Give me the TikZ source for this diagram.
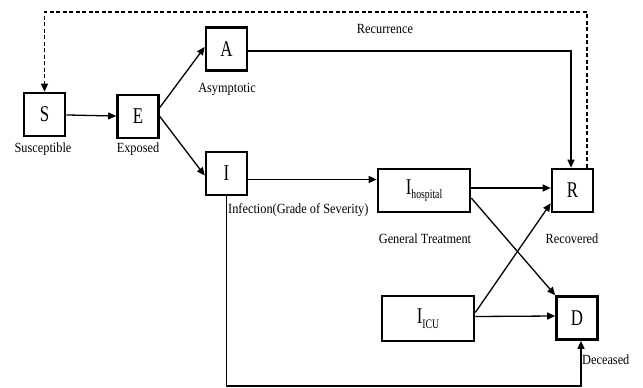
\documentclass[tikz,border=0pt]{standalone}
\usepackage{fontspec}
\setmainfont{Liberation Serif}
\newfontfamily\boxfont[FakeStretch=0.75]{Liberation Serif}
\newfontfamily\lblfont[FakeStretch=0.88]{Liberation Serif}
\usetikzlibrary{arrows.meta}
\tikzstyle{comp}=[draw=black,line width=2.6pt,minimum width=41pt,minimum height=43pt,inner sep=0pt,font=\boxfont\fontsize{22.5}{24}\selectfont]
\tikzstyle{wide}=[comp,minimum width=92pt]
\tikzstyle{lbl}=[inner sep=0pt,font=\lblfont\fontsize{14}{16}\selectfont]
\tikzstyle{flow}=[line width=1.3pt,-{Triangle[length=8pt,width=7pt]}]
\newcommand{\sbs}[1]{\raisebox{-0.22em}{\fontsize{13}{13}\selectfont #1}}

\begin{document}
\begin{tikzpicture}[x=1pt,y=-1pt]
        \useasboundingbox (0,0) rectangle (643,388);
        \node[comp] (S) at (44.5,114.5) {S};
        \node[comp] (E) at (138,116.5) {E};
        \node[comp] (A) at (226.5,49) {A};
        \node[comp] (I) at (226.5,173.5) {I};
        \node[wide] (Ih) at (424,190.5) {I\sbs{hospital}};
        \node[wide,minimum height=45pt] (Iicu) at (428,318.5) {I\sbs{ICU}};
        \node[comp] (R) at (572.5,190.5) {R};
        \node[comp] (D) at (577,318) {D};
        \node[lbl] (lS) at (43,149) {Susceptible};
        \node[lbl] (lE) at (138,149) {Exposed};
        \node[lbl] (lA) at (227,89) {Asymptotic};
        \node[lbl,anchor=west] (lI) at (228,210) {Infection(Grade of Severity)};
        \node[lbl] (lIh) at (425,239) {General Treatment};
        \node[lbl] (lR) at (572,239) {Recovered};
        \node[lbl,anchor=west] (lD) at (582,360) {Deceased};
        \node[lbl] (lrec) at (385,29) {Recurrence};
        \coordinate (top) at (300,12);
        \coordinate (bot) at (400,386);
        \draw[flow] (S) -- (E);
        \draw[flow] ([yshift=9pt]E.east) -- ([yshift=2pt]A.west);
        \draw[flow] (E.east) -- ([yshift=-2pt]I.west);
        \draw[flow] ([yshift=-2pt]A.east) -| ([xshift=-1.5pt]R.north);
        \draw[flow,dash pattern=on 4pt off 2.5pt] ([xshift=14.5pt]R.north) |- (top) -| (S.north);
        \draw[flow] ([yshift=-6pt]I.east) -- ([yshift=-6pt]I.east -| Ih.west);
        \draw[flow] ([yshift=2.5pt]Ih.east) -- ([yshift=2.5pt]R.west);
        \draw[flow] ([yshift=-7.5pt]Ih.east) -- (D.north west);
        \draw[flow] ([yshift=6pt]Iicu.east) -- ([yshift=10pt]R.south west);
        \draw[flow] ([yshift=2pt]Iicu.east) -- ([yshift=2pt]D.west);
        \draw[flow] (I) |- (bot) -| ([xshift=4pt]D.south);
      \end{tikzpicture}
\end{document}
